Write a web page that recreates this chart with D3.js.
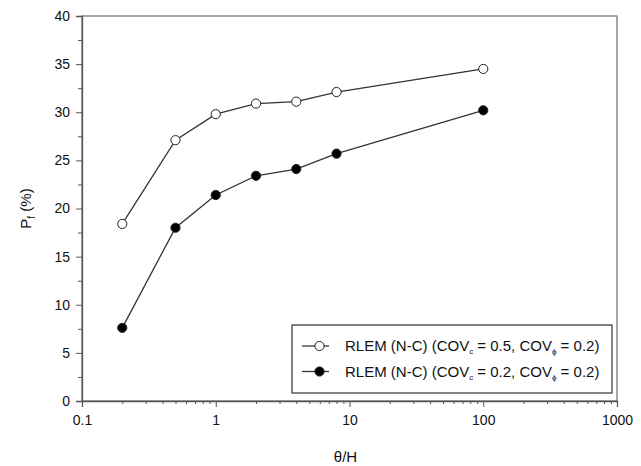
<!DOCTYPE html>
<html>
<head>
<meta charset="utf-8">
<script src="https://cdn.jsdelivr.net/npm/d3@7"></script>
<style>
  body { margin: 0; background: #fff; }
  svg { font-family: "Liberation Sans", Arial, sans-serif; }
</style>
</head>
<body>
<div id="chart"></div>
<script>
const ratios = [0.2, 0.5, 1, 2, 4, 8, 100];
const pfCov05 = [18.4, 27.1, 29.8, 30.9, 31.1, 32.1, 34.5];
const pfCov02 = [7.6, 18.0, 21.4, 23.4, 24.1, 25.7, 30.2];
const xTickValues = [0.1, 1, 10, 100, 1000];
const yTickValues = [0, 5, 10, 15, 20, 25, 30, 35, 40];
const seriesNames = ["0.5", "0.2"];

const width = 641, height = 466;
const margin = { left: 82, right: 24, top: 16, bottom: 65 };

const svg = d3.select("#chart").append("svg")
  .attr("width", width)
  .attr("height", height);

const x = d3.scaleLog().domain([0.1, 1000]).range([margin.left, width - margin.right]);
const y = d3.scaleLinear().domain([0, 40]).range([height - margin.bottom, margin.top]);

const axisColor = "#555";

// frame
svg.append("rect")
  .attr("x", x(0.1)).attr("y", y(40))
  .attr("width", x(1000) - x(0.1)).attr("height", y(0) - y(40))
  .attr("fill", "none").attr("stroke", "#777").attr("stroke-width", 1.3);

// minor ticks
const minorX = [];
[0.1, 1, 10, 100].forEach(d => { for (let k = 2; k <= 9; k++) minorX.push(d * k); });
svg.append("g")
  .attr("transform", `translate(0,${y(0)})`)
  .call(d3.axisBottom(x).tickValues(minorX).tickSize(3).tickFormat(""))
  .call(g => g.select(".domain").remove())
  .call(g => g.selectAll("line").attr("stroke", axisColor));

const minorY = d3.range(2.5, 40, 5);
svg.append("g")
  .attr("transform", `translate(${x(0.1)},0)`)
  .call(d3.axisLeft(y).tickValues(minorY).tickSize(4).tickFormat(""))
  .call(g => g.select(".domain").remove())
  .call(g => g.selectAll("line").attr("stroke", axisColor));

// major axes
svg.append("g")
  .attr("transform", `translate(0,${y(0)})`)
  .call(d3.axisBottom(x).tickValues(xTickValues).tickSize(6).tickPadding(8).tickFormat(d3.format("~g")))
  .call(g => g.select(".domain").attr("stroke", axisColor).attr("stroke-width", 1.3))
  .call(g => g.selectAll("line").attr("stroke", axisColor))
  .call(g => g.selectAll("text").attr("fill", "#111").attr("font-size", 14));

svg.append("g")
  .attr("transform", `translate(${x(0.1)},0)`)
  .call(d3.axisLeft(y).tickValues(yTickValues).tickSize(6).tickPadding(6))
  .call(g => g.select(".domain").attr("stroke", axisColor).attr("stroke-width", 1.3))
  .call(g => g.selectAll("line").attr("stroke", axisColor))
  .call(g => g.selectAll("text").attr("fill", "#111").attr("font-size", 14));

// axis titles
svg.append("text")
  .attr("x", (x(0.1) + x(1000)) / 2 - 4).attr("y", 462)
  .attr("text-anchor", "middle").attr("font-size", 15).attr("fill", "#111")
  .text("θ/H");

const yt = svg.append("text")
  .attr("transform", `translate(31,${(y(0) + y(40)) / 2}) rotate(-90)`)
  .attr("text-anchor", "middle").attr("font-size", 15).attr("fill", "#111");
yt.append("tspan").text("P");
yt.append("tspan").attr("font-size", 10).attr("dy", 4).text("f");
yt.append("tspan").attr("dy", -4).text(" (%)");

// series
const line = d3.line().x(d => x(d[0])).y(d => y(d[1]));
const series = [
  { cov: seriesNames[0], values: pfCov05, fill: "#fff" },
  { cov: seriesNames[1], values: pfCov02, fill: "#000" }
];

series.forEach(s => {
  const pts = ratios.map((r, i) => [r, s.values[i]]);
  svg.append("path").datum(pts)
    .attr("d", line).attr("fill", "none")
    .attr("stroke", "#333").attr("stroke-width", 1.3);
  svg.selectAll(null).data(pts).enter().append("circle")
    .attr("cx", d => x(d[0])).attr("cy", d => y(d[1])).attr("r", 4.6)
    .attr("fill", s.fill).attr("stroke", "#222").attr("stroke-width", 1);
});

// legend
const lg = svg.append("g");
lg.append("rect")
  .attr("x", 292).attr("y", 325).attr("width", 320).attr("height", 68)
  .attr("fill", "#fff").attr("stroke", "#333").attr("stroke-width", 1.2);

series.forEach((s, i) => {
  const ly = 346 + i * 25.5;
  lg.append("line").attr("x1", 302).attr("x2", 329).attr("y1", ly).attr("y2", ly)
    .attr("stroke", "#333").attr("stroke-width", 1.3);
  lg.append("circle").attr("cx", 319.5).attr("cy", ly).attr("r", 4.6)
    .attr("fill", s.fill).attr("stroke", "#222").attr("stroke-width", 1);
  const t = lg.append("text").attr("x", 345).attr("y", ly + 5)
    .attr("font-size", 15).attr("fill", "#111");
  t.append("tspan").text("RLEM (N-C) (COV");
  t.append("tspan").attr("font-size", 8).attr("dy", 3).text("c");
  t.append("tspan").attr("dy", -3).text(` = ${s.cov}, COV`);
  t.append("tspan").attr("font-size", 8).attr("dy", 3).text("ϕ");
  t.append("tspan").attr("dy", -3).text(" = 0.2)");
});
</script>
</body>
</html>
